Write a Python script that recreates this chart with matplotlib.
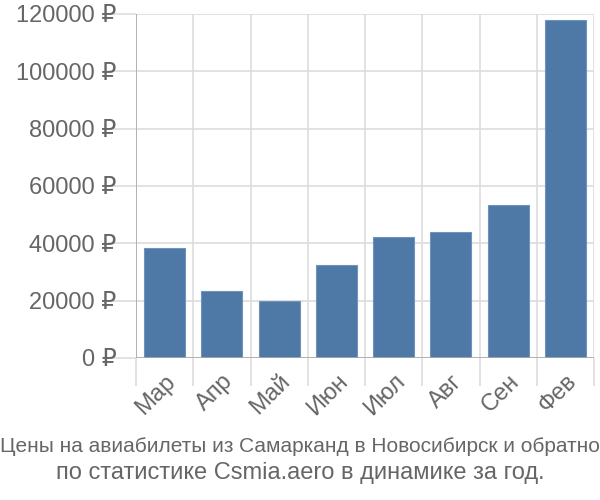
import numpy as np
import matplotlib.pyplot as plt

months = ['Мар', 'Апр', 'Май', 'Июн', 'Июл', 'Авг', 'Сен', 'Фев']
prices = [38500, 23400, 19900, 32500, 42300, 44100, 53500, 117800]
yticks = [0, 20000, 40000, 60000, 80000, 100000, 120000]

plt.rcParams['font.family'] = ['Liberation Sans', 'DejaVu Sans']

fig = plt.figure(figsize=(6, 5), dpi=100)
ax = fig.add_axes([136 / 600, 1 - 358 / 500, 458 / 600, 344 / 500])

x = np.arange(len(months))
ax.bar(x, prices, width=0.72, color='#4e79a7', edgecolor='#6f93bd', linewidth=0.8, zorder=3)

ax.set_xlim(-0.5, len(months) - 0.5)
ax.set_ylim(0, 120000)

# grid: horizontal at y ticks, vertical at category boundaries
for y in yticks:
    ax.axhline(y, color='#dddddd', lw=1.2, zorder=1)
for b in np.arange(-0.5, len(months), 1.0):
    ax.axvline(b, color='#dddddd', lw=1.2, zorder=1)
ax.axvline(-0.5, color='#aaaaaa', lw=1.2, zorder=2)
ax.axhline(0, color='#aaaaaa', lw=1.2, zorder=4)

for s in ax.spines.values():
    s.set_visible(False)

ax.set_yticks(yticks)
ax.set_yticklabels([f'{v} ₽' for v in yticks], fontsize=17, color='#666666')
ax.tick_params(axis='y', length=20, color='#dddddd', width=1.2, pad=-6)

ax.set_xticks(x)
ax.set_xticklabels(months, fontsize=17, color='#666666', rotation=45,
                   ha='right', rotation_mode='anchor')
ax.tick_params(axis='x', length=0, pad=9)
ax.set_xticks(np.arange(-0.5, len(months), 1.0), minor=True)
ax.tick_params(axis='x', which='minor', length=20, color='#dddddd', width=1.2)

fig.text(0.5, 1 - 447 / 500, 'Цены на авиабилеты из Самарканд в Новосибирск и обратно',
         ha='center', va='center', fontsize=15, color='#666666')
fig.text(0.5, 1 - 473 / 500, 'по статистике Csmia.aero в динамике за год.',
         ha='center', va='center', fontsize=17, color='#666666')

fig.savefig('out.png', dpi=100)
